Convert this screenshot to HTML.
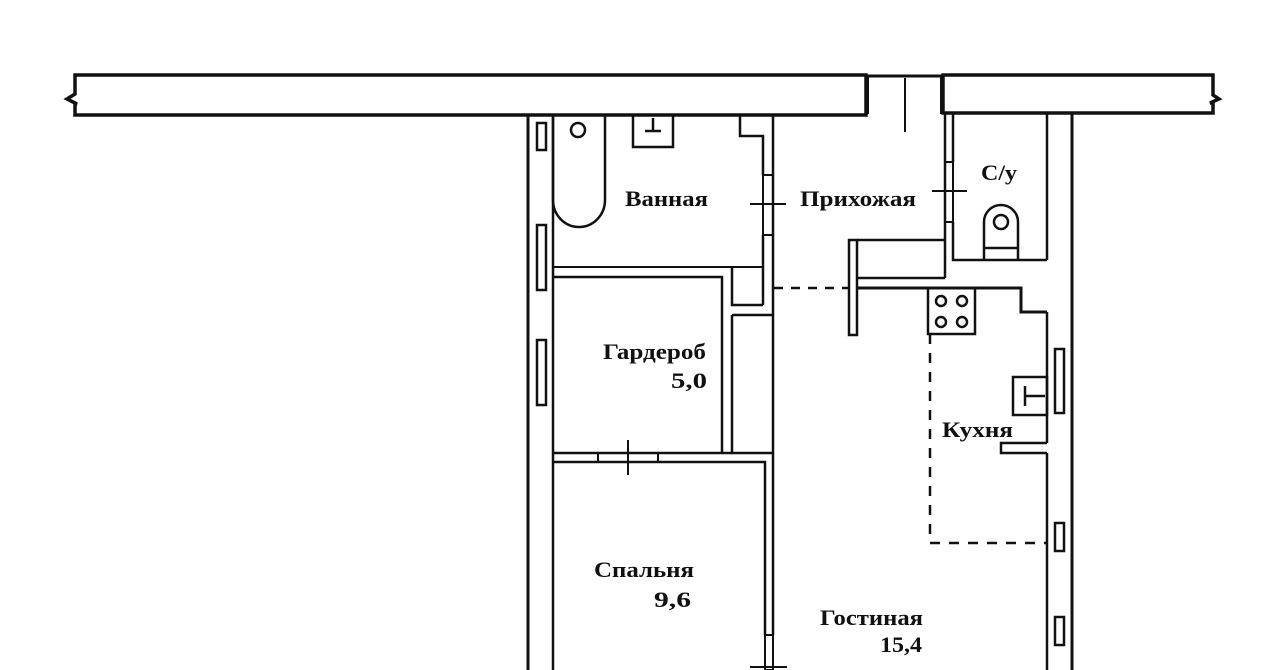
<!DOCTYPE html>
<html><head><meta charset="utf-8"><style>
html,body{margin:0;padding:0;background:#fff}
svg{display:block}
text{font-family:"Liberation Serif","DejaVu Serif",serif;font-weight:bold;font-size:22px;fill:#111}
</style></head><body>
<svg width="1280" height="670" viewBox="0 0 1280 670" xmlns="http://www.w3.org/2000/svg">
<g fill="none" stroke="#111" stroke-width="3" stroke-linejoin="miter">
<!-- top wall -->
<path d="M866 75 H75 V94 L67 99 L77 104 L75 104 V115 H866 Z" stroke-width="3.5"/>
<path d="M943 75 H1213 V95 L1219 99 L1210 103 H1213 V113 H943 Z" stroke-width="3.5"/>
<line x1="866" y1="76" x2="943" y2="76" stroke-width="3"/>
<line x1="868" y1="77" x2="868" y2="114" stroke-width="2"/>
<line x1="941" y1="77" x2="941" y2="114" stroke-width="2"/>
<line x1="905" y1="78" x2="905" y2="132" stroke-width="2"/>
<!-- exterior walls -->
<line x1="528" y1="115" x2="528" y2="670"/>
<line x1="553" y1="115" x2="553" y2="670" stroke-width="2.5"/>
<line x1="1047" y1="113" x2="1047" y2="260" stroke-width="2.5"/>
<line x1="1047" y1="312" x2="1047" y2="443" stroke-width="2.5"/>
<line x1="1047" y1="453" x2="1047" y2="670" stroke-width="2.5"/>
<line x1="1072" y1="113" x2="1072" y2="670"/>
<!-- left windows -->
<rect x="537" y="123" width="9" height="27" stroke-width="2.5"/>
<rect x="537" y="225" width="9" height="65" stroke-width="2.5"/>
<rect x="537" y="340" width="9" height="65" stroke-width="2.5"/>
<!-- right windows -->
<rect x="1055" y="349" width="9" height="64" stroke-width="2.5"/>
<rect x="1055" y="523" width="9" height="28" stroke-width="2.5"/>
<rect x="1055" y="617" width="9" height="28" stroke-width="2.5"/>
<!-- bath -->
<path d="M553 115 V200 A26 27 0 0 0 605 200 V115" stroke-width="2.5"/>
<circle cx="578" cy="130" r="7" stroke-width="2.5"/>
<rect x="633" y="115" width="40" height="32" stroke-width="2.5"/>
<path d="M645 131 H661 M653 131 V118" stroke-width="2.5"/>
<path d="M740 115 V136 H763 V175 M763 235 V267" stroke-width="2.5"/>
<rect x="763" y="175" width="10" height="60" stroke-width="2"/>
<line x1="750" y1="204" x2="786" y2="204" stroke-width="2"/>
<line x1="773" y1="115" x2="773" y2="453" stroke-width="2.5"/>
<line x1="553" y1="267" x2="763" y2="267" stroke-width="2"/>
<line x1="763" y1="267" x2="763" y2="305" stroke-width="2.5"/>
<path d="M732 267 V305 H763" stroke-width="2.5"/>
<!-- wardrobe -->
<path d="M553 277 H722 V453" stroke-width="2.5"/>
<path d="M732 315 H773 M732 315 V453 H773" stroke-width="2.5"/>
<line x1="553" y1="453" x2="732" y2="453" stroke-width="2.5"/>
<path d="M553 462 H765 V635 M773 453 V635" stroke-width="2.5"/>
<rect x="765" y="635" width="8" height="35" stroke-width="2"/>
<line x1="750" y1="667" x2="787" y2="667" stroke-width="2"/>
<rect x="598" y="453" width="60" height="9" stroke-width="2"/>
<line x1="628" y1="440" x2="628" y2="475" stroke-width="2"/>
<!-- hallway / WC -->
<line x1="945" y1="113" x2="945" y2="278" stroke-width="2.5"/>
<line x1="953" y1="113" x2="953" y2="162" stroke-width="2.5"/>
<path d="M953 222 V260 H1047" stroke-width="2.5"/>
<rect x="945" y="162" width="8" height="60" stroke-width="2"/>
<line x1="932" y1="191" x2="967" y2="191" stroke-width="2"/>
<path d="M984 260 V222 A17 17 0 0 1 1018 222 V260 M984 248 H1018" stroke-width="2.5"/>
<circle cx="1001" cy="222" r="7" stroke-width="2.5"/>
<rect x="849" y="240" width="8" height="95" stroke-width="2.5"/>
<path d="M857 240 H945 M857 278 H945" stroke-width="2.5"/>
<line x1="774" y1="288" x2="849" y2="288" stroke-width="2.5" stroke-dasharray="9,8"/>
<!-- kitchen -->
<path d="M857 288 H1021 V312 H1047" stroke-width="3"/>
<rect x="928" y="288" width="47" height="46" stroke-width="2.5"/>
<circle cx="941" cy="301" r="5" stroke-width="2.5"/>
<circle cx="962" cy="301" r="5" stroke-width="2.5"/>
<circle cx="941" cy="322" r="5" stroke-width="2.5"/>
<circle cx="962" cy="322" r="5" stroke-width="2.5"/>
<path d="M930 334 V543 H1047" stroke-width="2.5" stroke-dasharray="10,9"/>
<rect x="1013" y="377" width="34" height="38" stroke-width="2.5"/>
<path d="M1025 386 V406 M1025 396 H1045" stroke-width="2.5"/>
<path d="M1047 443 H1001 V453 H1047" stroke-width="2.5"/>
</g>
<text x="625" y="206" textLength="83" lengthAdjust="spacingAndGlyphs">Ванная</text>
<text x="800" y="206" textLength="116" lengthAdjust="spacingAndGlyphs">Прихожая</text>
<text x="981" y="180" textLength="36" lengthAdjust="spacingAndGlyphs">С/у</text>
<text x="603" y="359" textLength="103" lengthAdjust="spacingAndGlyphs">Гардероб</text>
<text x="671" y="388" textLength="36" lengthAdjust="spacingAndGlyphs">5,0</text>
<text x="942" y="437" textLength="71" lengthAdjust="spacingAndGlyphs">Кухня</text>
<text x="594" y="577" textLength="100" lengthAdjust="spacingAndGlyphs">Спальня</text>
<text x="654" y="607" textLength="37" lengthAdjust="spacingAndGlyphs">9,6</text>
<text x="820" y="625" textLength="103" lengthAdjust="spacingAndGlyphs">Гостиная</text>
<text x="880" y="652" textLength="42" lengthAdjust="spacingAndGlyphs">15,4</text>
</svg>
</body></html>
